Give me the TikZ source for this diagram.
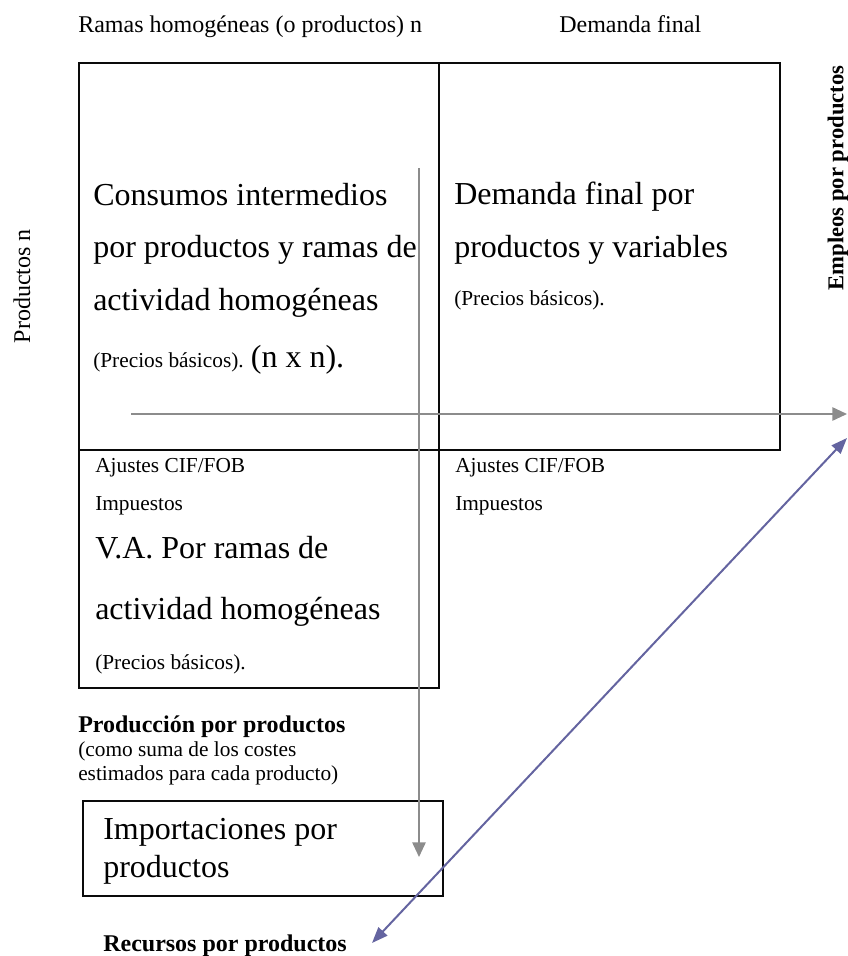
\documentclass[tikz,border=0pt]{standalone}
\usepackage{fontspec}
\setmainfont{Liberation Serif}
\usetikzlibrary{arrows.meta}
\definecolor{TintaNegra}{RGB}{10,10,10}
\definecolor{GrisFlecha}{RGB}{140,140,140}
\definecolor{VioletaFlecha}{RGB}{100,100,160}
\newcommand{\letrachica}{\fontsize{16}{19}\selectfont}
\newcommand{\letramedia}{\fontsize{18}{22}\selectfont}
\newcommand{\letragrande}{\fontsize{24}{29}\selectfont}

\begin{document}
\begin{tikzpicture}[x=0.75pt, y=-0.75pt,
    texto/.style={anchor=base west, inner sep=0pt, font=\letrachica},
    grande/.style={texto, font=\letragrande},
    negrita/.style={texto, font=\letramedia\bfseries},
    flechagris/.style={GrisFlecha, line width=1.3pt, -{Triangle[length=11pt,width=10pt]}},
    flechavioleta/.style={VioletaFlecha, line width=1.5pt, {Triangle[length=12pt,width=9pt]}-{Triangle[length=12pt,width=9pt]}}]
    \useasboundingbox (0,0) rectangle (848,956);

    % Cabeceras
    \node[texto, font=\letramedia] (ramas) at (78,33) {Ramas homogéneas (o productos) n};
    \node[texto, font=\letramedia] (demanda) at (559,33) {Demanda final};
    \node[rotate=90, font=\letramedia, inner sep=0pt] (productos) at (22,286) {Productos n};
    \node[rotate=90, font=\fontsize{17}{20}\selectfont\bfseries, inner sep=0pt] (empleos) at (838,178) {Empleos por productos};

    % Tabla
    \draw[TintaNegra, line width=1.6pt] (79,63) rectangle (780,450);
    \draw[TintaNegra, line width=1.6pt] (439,63) -- (439,450);
    \draw[TintaNegra, line width=1.6pt] (79,450) rectangle (439,688);

    % Consumos intermedios
    \node[grande] (ci1) at (93,205) {Consumos intermedios};
    \node[grande] (ci2) at (93,257) {por productos y ramas de};
    \node[grande] (ci3) at (93,310) {actividad homogéneas};
    \node[texto] (ci4) at (93,367) {(Precios básicos). {\letragrande(n x n).}};

    % Demanda final
    \node[grande] (df1) at (454,204) {Demanda final por};
    \node[grande] (df2) at (454,257) {productos y variables};
    \node[texto] (df3) at (454,305) {(Precios básicos).};

    % Valor añadido
    \node[texto] (va1) at (95,472) {Ajustes CIF/FOB};
    \node[texto] (va2) at (95,510) {Impuestos};
    \node[grande] (va3) at (95,558) {V.A. Por ramas de};
    \node[grande] (va4) at (95,619) {actividad homogéneas};
    \node[texto] (va5) at (95,669) {(Precios básicos).};
    \node[texto] (aj1) at (455,472) {Ajustes CIF/FOB};
    \node[texto] (aj2) at (455,510) {Impuestos};

    % Produccion
    \node[negrita] (prod1) at (78,732) {Producción por productos};
    \node[texto] (prod2) at (78,756) {(como suma de los costes};
    \node[texto] (prod3) at (78,780) {estimados para cada producto)};

    % Importaciones
    \draw[TintaNegra, line width=1.4pt] (83,801) rectangle (443,896);
    \node[grande] (imp1) at (103,839) {Importaciones por};
    \node[grande] (imp2) at (103,877) {productos};

    \node[negrita] (recursos) at (103,951) {Recursos por productos};

    % Flechas
    \coordinate (colIni) at (419,168);
    \coordinate (colFin) at (419,857);
    \coordinate (filIni) at (131,414);
    \coordinate (filFin) at (847,414);
    \coordinate (diagAbajo) at (372,943);
    \coordinate (diagArriba) at (847,438);
    \draw[flechagris] (colIni) -- (colFin);
    \draw[flechagris] (filIni) -- (filFin);
    \draw[flechavioleta] (diagAbajo) -- (diagArriba);
\end{tikzpicture}
\end{document}
